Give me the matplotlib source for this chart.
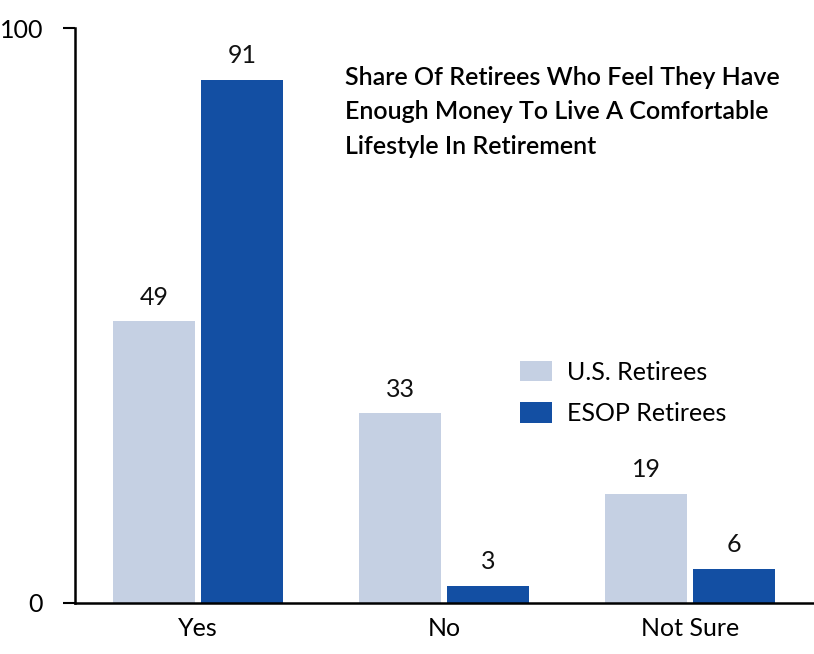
import matplotlib
matplotlib.use("Agg")
import matplotlib.pyplot as plt
import numpy as np

plt.rcParams['font.family'] = ['Lato', 'DejaVu Sans']

categories = ["Yes", "No", "Not Sure"]
us_retirees = [49, 33, 19]
esop_retirees = [91, 3, 6]

light = "#C5D0E3"
dark = "#134FA3"

fig = plt.figure(figsize=(8.14, 6.54), dpi=100)
ax = fig.add_axes([75/814, 51/654, 739/814, 575/654])

x = np.arange(len(categories))
w = 0.333
off = 0.179
b1 = ax.bar(x - off, us_retirees, w, color=light, label="U.S. Retirees")
b2 = ax.bar(x + off, esop_retirees, w, color=dark, label="ESOP Retirees")

for bars, vals in ((b1, us_retirees), (b2, esop_retirees)):
    for r, v in zip(bars, vals):
        ax.text(r.get_x() + r.get_width()/2, v + 2.2, str(v), ha="center",
                va="bottom", fontsize=18, color="#111111")

ax.set_xlim(-0.5, 2.504)
ax.set_ylim(0, 100)
ax.set_yticks([0, 100])
ax.set_xticks(x)
ax.set_xticklabels(categories)
ax.tick_params(axis="y", length=9, width=1.5, labelsize=18, pad=14)
ax.tick_params(axis="x", length=0, labelsize=18, pad=10)
for s in ["top", "right"]:
    ax.spines[s].set_visible(False)
ax.spines["left"].set_linewidth(1.8)
ax.spines["bottom"].set_linewidth(1.8)

fig.text(345/814, 1 - 66/654, "Share Of Retirees Who Feel They Have\nEnough Money To Live A Comfortable\nLifestyle In Retirement",
         ha="left", va="top", fontsize=18, fontweight="semibold", linespacing=1.6)

leg = ax.legend(loc="upper left", bbox_to_anchor=(497/814, 1 - 338/654),
                bbox_transform=fig.transFigure, frameon=False, fontsize=18,
                handlelength=1.3, handleheight=0.9, labelspacing=0.75, handletextpad=0.6)

fig.savefig("out.png", dpi=100)
